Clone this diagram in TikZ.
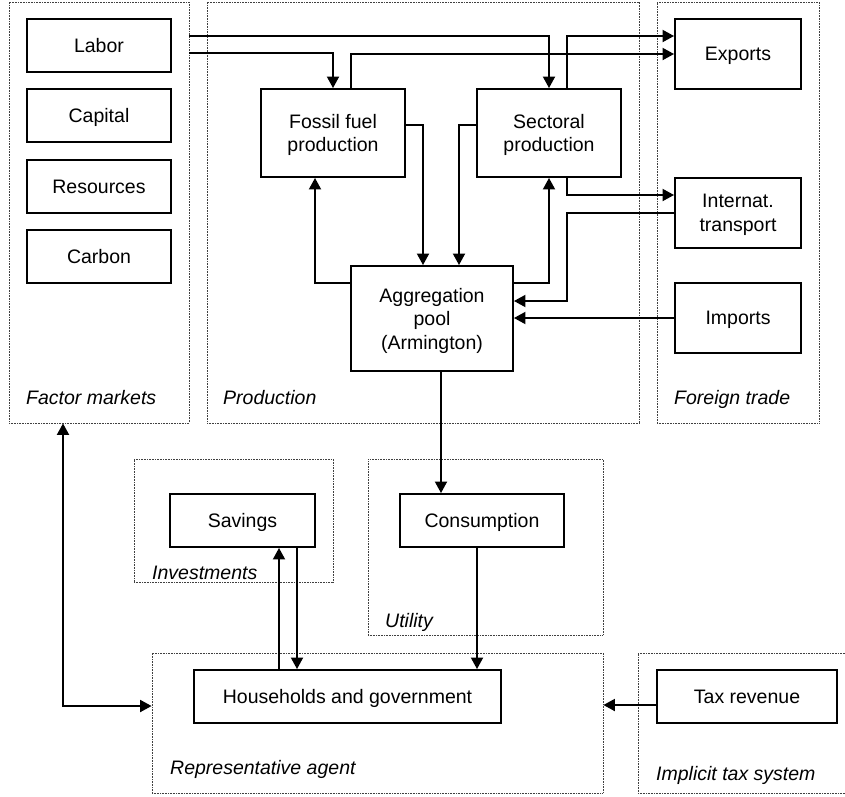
\documentclass[tikz,border=0pt]{standalone}
\usepackage{fontspec}
\setmainfont{Liberation Sans}
\usetikzlibrary{arrows.meta}
\begin{document}
\begin{tikzpicture}[x=1pt,y=-1pt,
  every node/.style={font=\fontsize{19.5}{23.5}\selectfont},
  box/.style={draw=black,line width=1.9pt,inner sep=0pt,align=center,fill=white,text depth=0pt},
  region/.style={draw=black!75,line width=0.8pt,dash pattern=on 0.8pt off 0.8pt,inner sep=0pt},
  rlabel/.style={anchor=base west,inner sep=0pt,font=\fontsize{19.5}{23.5}\selectfont\itshape},
  arr/.style={line width=1.9pt,-{Triangle[width=12pt,length=11.5pt]}},
  arrboth/.style={line width=1.9pt,{Triangle[width=12pt,length=11.5pt]}-{Triangle[width=12pt,length=11.5pt]}}]
\useasboundingbox (0,0) rectangle (845,796);
% regions
\node[region,minimum width=180pt,minimum height=421pt] (fm) at (99,212.5) {};
\node[region,minimum width=432pt,minimum height=421pt] (prod) at (423,212.5) {};
\node[region,minimum width=162pt,minimum height=421pt] (ft) at (738,212.5) {};
\node[region,minimum width=199pt,minimum height=123pt] (inv) at (233.5,520.5) {};
\node[region,minimum width=235pt,minimum height=176pt] (util) at (485.5,547) {};
\node[region,minimum width=451pt,minimum height=140pt] (ra) at (377.5,723) {};
\node[region,minimum width=212pt,minimum height=140pt] (its) at (744,723) {};
% region labels
\node[rlabel] (lfm) at (26,404) {Factor markets};
\node[rlabel] (lprod) at (223,404) {Production};
\node[rlabel] (lft) at (674,404) {Foreign trade};
\node[rlabel] (linv) at (152,579) {Investments};
\node[rlabel] (lutil) at (385,627) {Utility};
\node[rlabel] (lra) at (170,774) {Representative agent};
\node[rlabel] (lits) at (656,780) {Implicit tax system};
% boxes
\node[box,minimum width=144pt,minimum height=53pt] (labor) at (99,45.5) {Labor};
\node[box,minimum width=144pt,minimum height=53pt] (capital) at (99,115.5) {Capital};
\node[box,minimum width=144pt,minimum height=53pt] (resources) at (99,186.5) {Resources};
\node[box,minimum width=144pt,minimum height=53pt] (carbon) at (99,256.5) {Carbon};
\node[box,minimum width=144pt,minimum height=88pt] (fossil) at (333,133) {Fossil fuel\\production};
\node[box,minimum width=144pt,minimum height=88pt] (sect) at (549,133) {Sectoral\\production};
\node[box,minimum width=126pt,minimum height=70pt] (exports) at (738,54) {Exports};
\node[box,minimum width=126pt,minimum height=70pt] (trans) at (738,213) {Internat.\\transport};
\node[box,minimum width=126pt,minimum height=70pt] (imports) at (738,318) {Imports};
\node[box,minimum width=162pt,minimum height=105pt] (agg) at (432,318.5) {Aggregation\\pool\\(Armington)};
\node[box,minimum width=164pt,minimum height=53pt] (cons) at (482,520.5) {Consumption};
\node[box,minimum width=145pt,minimum height=53pt] (sav) at (242.5,520.5) {Savings};
\node[box,minimum width=307pt,minimum height=53pt] (hh) at (347.5,696.5) {Households and government};
\node[box,minimum width=180pt,minimum height=53pt] (tax) at (747,696.5) {Tax revenue};
% connectors
\draw[arr] (fm.east |- 0,36) -| (sect.north);
\draw[arr] (fm.east |- 0,53) -| (fossil.north);
\draw[arr] ([xshift=18pt]fossil.north) |- (exports.west);
\draw[arr] ([xshift=18pt]sect.north) |- ([yshift=18pt]exports.west);
\draw[arr] ([yshift=8pt]fossil.east) -| ([xshift=-9pt]agg.north);
\draw[arr] ([yshift=8pt]sect.west) -| ([xshift=27pt]agg.north);
\draw[arr] ([yshift=35.5pt]agg.west) -| ([xshift=-18pt]fossil.south);
\draw[arr] ([yshift=35.5pt]agg.east) -| (sect.south);
\draw[arr] ([xshift=18pt]sect.south) |- ([yshift=18pt]trans.west);
\coordinate (tk) at (567,301);
\draw[arr] (trans.west) -| (tk) -- (agg.east |- tk);
\draw[arr] (imports.west) -- (agg.east |- imports.west);
\draw[arr] ([xshift=9pt]agg.south) -- ([xshift=9pt]agg.south |- cons.north);
\draw[arr] ([xshift=-5pt]cons.south) -- ([xshift=-5pt]cons.south |- hh.north);
\draw[arr] ([xshift=36.5pt]sav.south |- hh.north) -- ([xshift=36.5pt]sav.south);
\draw[arr] ([xshift=54.5pt]sav.south) -- ([xshift=54.5pt]sav.south |- hh.north);
\coordinate (corner) at (63,706);
\draw[arrboth] (fm.south -| corner) -- (corner) -- (ra.west |- corner);
\coordinate (taxout) at ([yshift=-8.5pt]tax.west);
\draw[arr] (taxout) -- (ra.east |- taxout);
\end{tikzpicture}
\end{document}
